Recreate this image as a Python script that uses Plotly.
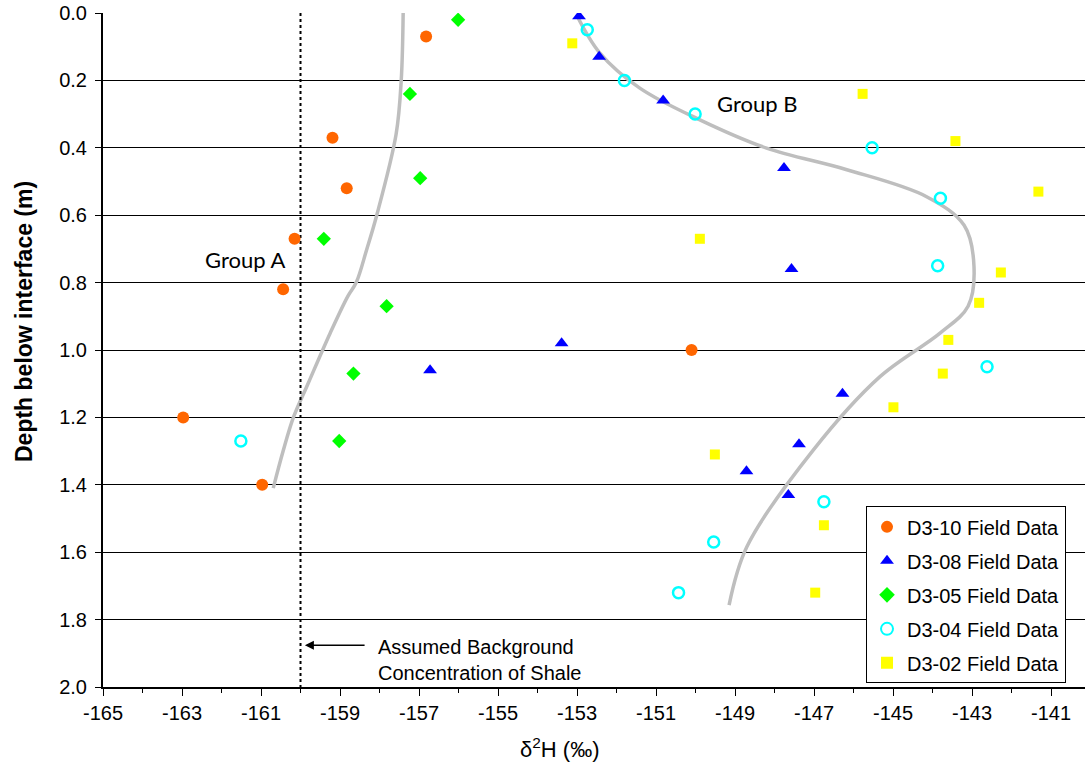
import plotly.graph_objects as go

# ---- data ----
d310_x = [-156.82, -159.19, -158.83, -160.15, -160.44, -162.97, -160.97, -150.10]
d310_y = [0.07, 0.37, 0.52, 0.67, 0.82, 1.20, 1.40, 1.00]

d308_x = [-152.95, -152.44, -150.82, -147.76, -147.57, -153.39, -156.72, -146.28, -147.38, -148.71, -147.65]
d308_y = [0.01, 0.13, 0.26, 0.46, 0.76, 0.98, 1.06, 1.13, 1.28, 1.36, 1.43]

d305_x = [-156.01, -157.23, -156.97, -159.41, -157.82, -158.66, -159.02]
d305_y = [0.02, 0.24, 0.49, 0.67, 0.87, 1.07, 1.27]

d304_x = [-152.74, -151.80, -150.01, -145.53, -143.80, -143.87, -142.62, -161.51, -146.75, -149.54, -150.43]
d304_y = [0.05, 0.20, 0.30, 0.40, 0.55, 0.75, 1.05, 1.27, 1.45, 1.57, 1.72]

d302_x = [-153.12, -145.77, -143.42, -141.32, -149.89, -142.27, -142.82, -143.60, -143.74, -144.99, -149.51, -146.75, -146.97]
d302_y = [0.09, 0.24, 0.38, 0.53, 0.67, 0.77, 0.86, 0.97, 1.07, 1.17, 1.31, 1.52, 1.72]

# hand-drawn trend curves
groupA_x = [-157.40, -157.45, -157.58, -158.07, -158.32, -158.59, -158.80, -159.25, -159.81, -160.18, -160.44, -160.69]
groupA_y = [-0.01, 0.20, 0.36, 0.60, 0.70, 0.80, 0.84, 0.95, 1.10, 1.20, 1.30, 1.41]

groupB_x = [-153.00, -152.42, -151.41, -149.89, -148.20, -146.17,
            -144.15, -143.20, -142.95, -143.10, -143.81,
            -145.33, -147.02, -148.70, -149.15]
groupB_y = [0.008, 0.119, 0.223, 0.317, 0.401, 0.465,
            0.545, 0.630, 0.753, 0.870, 0.950,
            1.079, 1.297, 1.584, 1.757]

background_x = -160
series_names = ["D3-10 Field Data", "D3-08 Field Data", "D3-05 Field Data", "D3-04 Field Data", "D3-02 Field Data"]

x_tick_vals = [-165, -163, -161, -159, -157, -155, -153, -151, -149, -147, -145, -143, -141]
x_tick_text = ["-165", "-163", "-161", "-159", "-157", "-155", "-153", "-151", "-149", "-147", "-145", "-143", "-141"]

FONT = "Arial"

fig = go.Figure()

curve_color = "#BEBEBE"
fig.add_trace(go.Scatter(x=groupA_x, y=groupA_y, mode="lines", line=dict(color=curve_color, width=3.5, shape="spline", smoothing=1.0),
                         showlegend=False, hoverinfo="skip"))
fig.add_trace(go.Scatter(x=groupB_x, y=groupB_y, mode="lines", line=dict(color=curve_color, width=3.5, shape="spline", smoothing=1.0),
                         showlegend=False, hoverinfo="skip"))

fig.add_trace(go.Scatter(x=[background_x, background_x], y=[0, 2.0], mode="lines",
                         line=dict(color="black", width=2, dash="dot"), showlegend=False, hoverinfo="skip"))

fig.add_trace(go.Scatter(x=d310_x, y=d310_y, mode="markers", name=series_names[0], legendgroup="a",
                         marker=dict(symbol="circle", size=12, color="#FF6600")))
fig.add_trace(go.Scatter(x=d308_x, y=d308_y, mode="markers", name=series_names[1], legendgroup="b",
                         marker=dict(symbol="triangle-up", size=12, color="#0000FF")))
fig.add_trace(go.Scatter(x=d305_x, y=d305_y, mode="markers", name=series_names[2], legendgroup="c",
                         marker=dict(symbol="diamond", size=11, color="#00FF00")))
fig.add_trace(go.Scatter(x=d304_x, y=d304_y, mode="markers", name=series_names[3], legendgroup="d",
                         marker=dict(symbol="circle-open", size=11, color="#00FFFF", line=dict(width=2.5, color="#00FFFF"))))
fig.add_trace(go.Scatter(x=d302_x, y=d302_y, mode="markers", name=series_names[4], legendgroup="e",
                         marker=dict(symbol="square", size=10, color="#FFFF00")))

fig.update_layout(
    width=1085, height=765,
    margin=dict(l=103, r=0, t=13, b=78),
    paper_bgcolor="white", plot_bgcolor="white",
    font=dict(family=FONT, size=20, color="black"),
    showlegend=True,
    legend=dict(x=0.777, y=0.268, xanchor="left", yanchor="top",
                bgcolor="white", bordercolor="black", borderwidth=1,
                font=dict(family=FONT, size=20, color="black"),
                tracegroupgap=5, itemsizing="constant"),
    xaxis=dict(range=[-165, -140.14], tickmode="array", tickvals=x_tick_vals, ticktext=x_tick_text,
               ticks="outside", ticklen=7, tickwidth=1,
               tickcolor="black", showline=True, linecolor="black", linewidth=2,
               showgrid=False, zeroline=False, tickfont=dict(family=FONT, size=20),
               minor=dict(tickmode="linear", tick0=-165, dtick=1, ticks="outside", ticklen=4,
                          tickcolor="black", showgrid=False)),
    yaxis=dict(range=[2.0, 0.0], tick0=0, dtick=0.2, tickformat=".1f", ticks="outside", ticklen=6,
               tickwidth=1, tickcolor="black", showline=True, linecolor="black", linewidth=2,
               showgrid=True, gridcolor="black", gridwidth=1.2, zeroline=False,
               tickfont=dict(family=FONT, size=20), ticklabelstandoff=4),
)

ph = 765 - 13 - 78
pw = 1085 - 103

annotations = [
    dict(text="δ<sup>2</sup>H (‰)", x=-153.45, xref="x", y=(765 - 78 - 748) / ph, yref="paper",
         yanchor="middle", showarrow=False, font=dict(family=FONT, size=22)),
    dict(text="<b>Depth below interface (m)</b>", x=(24 - 103) / pw, xref="paper", y=(765 - 78 - 322) / ph,
         yref="paper", xanchor="center", yanchor="middle", textangle=-90,
         showarrow=False, font=dict(family=FONT, size=23)),
    dict(text="Group A", x=-161.4, y=0.73, xref="x", yref="y", showarrow=False,
         font=dict(family="Lato, Carlito, sans-serif", size=22)),
    dict(text="Group B", x=-148.44, y=0.27, xref="x", yref="y", showarrow=False,
         font=dict(family="Lato, Carlito, sans-serif", size=22)),
    dict(text="", x=-159.89, y=1.876, ax=-158.34, ay=1.876, xref="x", yref="y", axref="x", ayref="y",
         showarrow=True, arrowhead=2, arrowsize=1.2, arrowwidth=1.5, arrowcolor="black"),
    dict(text="Assumed Background<br>Concentration of Shale", x=-158.09, y=1.921, xref="x", yref="y",
         xanchor="left", yanchor="middle", align="left", showarrow=False, font=dict(family=FONT, size=20)),
]
fig.update_layout(annotations=annotations)

fig.write_html("out.html")
